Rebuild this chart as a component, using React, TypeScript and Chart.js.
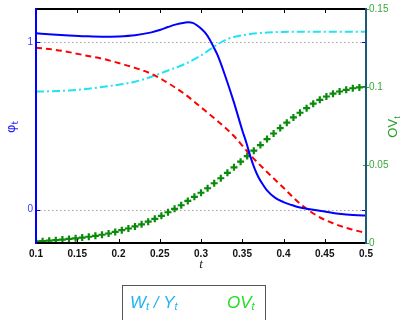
import React, { useEffect, useRef } from "react";
import { Chart, registerables } from "chart.js";

Chart.register(...registerables);

// ---- data ----
const tPhi = [0.1, 0.12, 0.14, 0.16, 0.18, 0.2, 0.22, 0.24, 0.25, 0.26, 0.27, 0.28, 0.285, 0.29, 0.295, 0.3, 0.305, 0.31, 0.315, 0.32, 0.33, 0.34, 0.35, 0.355, 0.36, 0.365, 0.37, 0.375, 0.38, 0.39, 0.4, 0.41, 0.42, 0.43, 0.44, 0.45, 0.46, 0.47, 0.48, 0.49, 0.5];
const phiValues = [1.055, 1.048, 1.042, 1.037, 1.034, 1.036, 1.043, 1.06, 1.074, 1.092, 1.108, 1.118, 1.121, 1.117, 1.103, 1.083, 1.058, 1.022, 0.975, 0.925, 0.79, 0.64, 0.475, 0.4, 0.315, 0.245, 0.19, 0.15, 0.115, 0.07, 0.045, 0.027, 0.012, 0.004, -0.004, -0.012, -0.02, -0.026, -0.031, -0.034, -0.036];

const tRed = [0.1, 0.12, 0.14, 0.16, 0.18, 0.2, 0.22, 0.24, 0.26, 0.28, 0.3, 0.32, 0.34, 0.36, 0.38, 0.4, 0.42, 0.44, 0.46, 0.48, 0.5];
const redValues = [0.968, 0.958, 0.942, 0.922, 0.903, 0.877, 0.848, 0.812, 0.757, 0.692, 0.612, 0.53, 0.44, 0.325, 0.225, 0.13, 0.035, -0.035, -0.082, -0.115, -0.14];

const tWY = [0.1, 0.12, 0.14, 0.16, 0.18, 0.2, 0.22, 0.24, 0.26, 0.28, 0.3, 0.31, 0.32, 0.33, 0.34, 0.36, 0.38, 0.4, 0.45, 0.5];
const wyValues = [0.706, 0.708, 0.713, 0.721, 0.733, 0.747, 0.765, 0.795, 0.832, 0.87, 0.922, 0.955, 0.988, 1.015, 1.033, 1.05, 1.059, 1.063, 1.064, 1.064];

const tOV = [0.1, 0.108, 0.116, 0.124, 0.132, 0.14, 0.148, 0.156, 0.164, 0.172, 0.18, 0.188, 0.196, 0.204, 0.212, 0.22, 0.228, 0.236, 0.244, 0.252, 0.26, 0.268, 0.276, 0.284, 0.292, 0.3, 0.308, 0.316, 0.324, 0.332, 0.34, 0.348, 0.356, 0.364, 0.372, 0.38, 0.388, 0.396, 0.404, 0.412, 0.42, 0.428, 0.436, 0.444, 0.452, 0.46, 0.468, 0.476, 0.484, 0.492, 0.5];
const ovValues = [0.001, 0.0012, 0.0015, 0.0018, 0.0022, 0.0026, 0.003, 0.0035, 0.004, 0.0046, 0.0053, 0.0061, 0.0071, 0.0082, 0.0093, 0.0106, 0.012, 0.0137, 0.0155, 0.0174, 0.0197, 0.0219, 0.0242, 0.027, 0.0296, 0.0322, 0.0351, 0.0383, 0.0415, 0.045, 0.0485, 0.0521, 0.0557, 0.0592, 0.0628, 0.0666, 0.0702, 0.0737, 0.0771, 0.0805, 0.0835, 0.0864, 0.0893, 0.0918, 0.0939, 0.0957, 0.0971, 0.0982, 0.0992, 0.0997, 0.1];

const xTicks = [0.1, 0.15, 0.2, 0.25, 0.3, 0.35, 0.4, 0.45, 0.5];
const leftTicks = [0, 1];
const rightTicks = [0, 0.05, 0.1, 0.15];

const pts = (xs: number[], ys: number[]) => xs.map((x, i) => ({ x, y: ys[i] }));

function drawSub(ctx: CanvasRenderingContext2D, parts: { text: string; sub?: boolean }[], x: number, y: number, font: string, subFont: string, subDy: number) {
  let cx = x;
  for (const p of parts) {
    ctx.font = p.sub ? subFont : font;
    ctx.fillText(p.text, cx, p.sub ? y + subDy : y);
    cx += ctx.measureText(p.text).width;
  }
  return cx - x;
}

function measureParts(ctx: CanvasRenderingContext2D, parts: { text: string; sub?: boolean }[], font: string, subFont: string) {
  let w = 0;
  for (const p of parts) {
    ctx.font = p.sub ? subFont : font;
    w += ctx.measureText(p.text).width;
  }
  return w;
}

const framePlugin = {
  id: "frame",
  beforeDatasetsDraw(chart: any) {
    const { ctx, chartArea } = chart;
    const { left, right } = chartArea;
    const y = chart.scales.y;
    ctx.save();
    ctx.strokeStyle = "#a0a0a0";
    ctx.lineWidth = 1;
    ctx.setLineDash([1.5, 2.5]);
    for (const v of leftTicks) {
      const py = Math.round(y.getPixelForValue(v)) + 0.5;
      ctx.beginPath();
      ctx.moveTo(left, py);
      ctx.lineTo(right, py);
      ctx.stroke();
    }
    ctx.restore();
  },
  afterDatasetsDraw(chart: any) {
    const { ctx, chartArea } = chart;
    const { left, right, top, bottom } = chartArea;
    const x = chart.scales.x;
    const y = chart.scales.y;
    const y1 = chart.scales.y1;
    ctx.save();
    ctx.setLineDash([]);
    // x ticks inward (top & bottom)
    ctx.strokeStyle = "#000";
    ctx.lineWidth = 1;
    for (const v of xTicks) {
      const px = Math.round(x.getPixelForValue(v)) + 0.5;
      ctx.beginPath();
      ctx.moveTo(px, bottom);
      ctx.lineTo(px, bottom - 4);
      ctx.moveTo(px, top);
      ctx.lineTo(px, top + 4);
      ctx.stroke();
    }
    // left ticks (mirrored on right)
    ctx.strokeStyle = "#0000ff";
    for (const v of leftTicks) {
      const py = Math.round(y.getPixelForValue(v)) + 0.5;
      ctx.beginPath();
      ctx.moveTo(left, py);
      ctx.lineTo(left + 4, py);
      ctx.moveTo(right, py);
      ctx.lineTo(right - 4, py);
      ctx.stroke();
    }
    // right ticks
    ctx.strokeStyle = "#33a833";
    for (const v of rightTicks) {
      const py = Math.round(y1.getPixelForValue(v)) + 0.5;
      ctx.beginPath();
      ctx.moveTo(right - 3, py);
      ctx.lineTo(right + 3, py);
      ctx.stroke();
    }
    // frame lines
    ctx.lineWidth = 2;
    ctx.strokeStyle = "#000";
    ctx.beginPath();
    ctx.moveTo(left, top);
    ctx.lineTo(right, top);
    ctx.moveTo(left, bottom);
    ctx.lineTo(right, bottom);
    ctx.stroke();
    ctx.strokeStyle = "#0000ff";
    ctx.beginPath();
    ctx.moveTo(left, top - 1);
    ctx.lineTo(left, bottom + 1);
    ctx.stroke();
    ctx.strokeStyle = "#1c5a78";
    ctx.beginPath();
    ctx.moveTo(right, top - 1);
    ctx.lineTo(right, bottom + 1);
    ctx.stroke();

    const midY = (top + bottom) / 2 + 1;

    // left title phi_t (rotated)
    ctx.textBaseline = "alphabetic";
    ctx.textAlign = "left";
    {
      const parts = [{ text: "\u03C6" }, { text: "t", sub: true }];
      const f = "13px 'DejaVu Sans'";
      const sf = "9px 'DejaVu Sans'";
      const w = measureParts(ctx, parts, f, sf);
      ctx.save();
      ctx.translate(15, midY);
      ctx.rotate(-Math.PI / 2);
      ctx.fillStyle = "#2222ff";
      drawSub(ctx, parts, -w / 2, 0, f, sf, 3);
      ctx.restore();
    }
    // right title OV_t (rotated)
    {
      const parts = [{ text: "OV" }, { text: "t", sub: true }];
      const f = "13px 'Liberation Sans'";
      const sf = "9px 'Liberation Sans'";
      const w = measureParts(ctx, parts, f, sf);
      ctx.save();
      ctx.translate(397, midY);
      ctx.rotate(-Math.PI / 2);
      ctx.fillStyle = "#22a022";
      drawSub(ctx, parts, -w / 2, 0, f, sf, 3);
      ctx.restore();
    }
    // x title
    ctx.fillStyle = "#222";
    ctx.font = "italic 13px 'Liberation Serif'";
    ctx.textAlign = "center";
    ctx.fillText("t", (left + right) / 2, 268);

    // legend box
    ctx.textAlign = "left";
    ctx.lineWidth = 1;
    ctx.strokeStyle = "#555";
    ctx.strokeRect(122.5, 285.5, 143, 50);
    const lf = "italic 17px 'Liberation Sans'";
    const lsf = "italic 11px 'Liberation Sans'";
    ctx.fillStyle = "#22b4f2";
    drawSub(ctx, [{ text: "W" }, { text: "t", sub: true }, { text: " / " }, { text: "Y" }, { text: "t", sub: true }], 130, 308, lf, lsf, 2);
    ctx.fillStyle = "#22dd22";
    drawSub(ctx, [{ text: "OV" }, { text: "t", sub: true }], 227, 308, lf, lsf, 2);
    ctx.restore();
  },
};

export default function App() {
  const ref = useRef<HTMLCanvasElement>(null);
  useEffect(() => {
    if (!ref.current) return;
    const chart = new Chart(ref.current, {
      type: "line",
      data: {
        datasets: [
          {
            label: "phi",
            data: pts(tPhi, phiValues),
            yAxisID: "y",
            borderColor: "#0000ff",
            borderWidth: 2,
            pointRadius: 0,
            tension: 0.4,
            cubicInterpolationMode: "monotone",
          },
          {
            label: "red",
            data: pts(tRed, redValues),
            yAxisID: "y",
            borderColor: "#ff0000",
            borderWidth: 2,
            borderDash: [6, 4],
            pointRadius: 0,
            cubicInterpolationMode: "monotone",
          },
          {
            label: "W/Y",
            data: pts(tWY, wyValues),
            yAxisID: "y",
            borderColor: "#22e4f0",
            borderWidth: 2,
            borderDash: [8, 3, 2, 3],
            pointRadius: 0,
            cubicInterpolationMode: "monotone",
          },
          {
            label: "OV",
            data: pts(tOV, ovValues),
            yAxisID: "y1",
            borderColor: "rgba(120,200,120,0.6)",
            borderWidth: 1,
            borderDash: [1, 2],
            pointStyle: "cross",
            pointRadius: 3.5,
            pointBorderWidth: 2.2,
            pointBorderColor: "#0a8a0a",
            pointBackgroundColor: "#0a8a0a",
          },
        ],
      },
      options: {
        responsive: false,
        animation: false,
        devicePixelRatio: 1,
        layout: { padding: { top: 9, left: 0, right: 0, bottom: 0 } },
        plugins: { legend: { display: false }, tooltip: { enabled: false } },
        scales: {
          x: {
            type: "linear",
            min: 0.1,
            max: 0.5,
            grid: { display: false, drawTicks: false },
            border: { display: false },
            afterBuildTicks: (s: any) => {
              s.ticks = xTicks.map((v) => ({ value: v }));
            },
            afterFit: (s: any) => {
              s.height = 77;
            },
            ticks: {
              padding: 5,
              color: "#111",
              font: { family: "'Liberation Sans'", size: 10, weight: "bold" },
              callback: (v: any) => String(v),
              maxRotation: 0,
            },
          },
          y: {
            type: "linear",
            position: "left",
            min: -0.2,
            max: 1.2,
            grid: { display: false, drawTicks: false },
            border: { display: false },
            afterBuildTicks: (s: any) => {
              s.ticks = leftTicks.map((v) => ({ value: v }));
            },
            afterFit: (s: any) => {
              s.width = 36;
            },
            ticks: {
              padding: 3,
              color: "#3a3aff",
              font: { family: "'Liberation Sans'", size: 10 },
              callback: (v: any) => String(v),
            },
          },
          y1: {
            type: "linear",
            position: "right",
            min: 0,
            max: 0.15,
            grid: { display: false, drawTicks: false },
            border: { display: false },
            afterBuildTicks: (s: any) => {
              s.ticks = rightTicks.map((v) => ({ value: v }));
            },
            afterFit: (s: any) => {
              s.width = 41;
            },
            ticks: {
              padding: 3,
              color: "#3aa63a",
              font: { family: "'Liberation Sans'", size: 10 },
              callback: (v: any) => String(v),
            },
          },
        },
      },
      plugins: [framePlugin],
    } as any);
    return () => chart.destroy();
  }, []);
  return (
    <div style={{ position: "fixed", left: 0, top: 0, width: 407, height: 320, background: "#fff" }}>
      <canvas ref={ref} width={407} height={320} style={{ display: "block" }} />
    </div>
  );
}
